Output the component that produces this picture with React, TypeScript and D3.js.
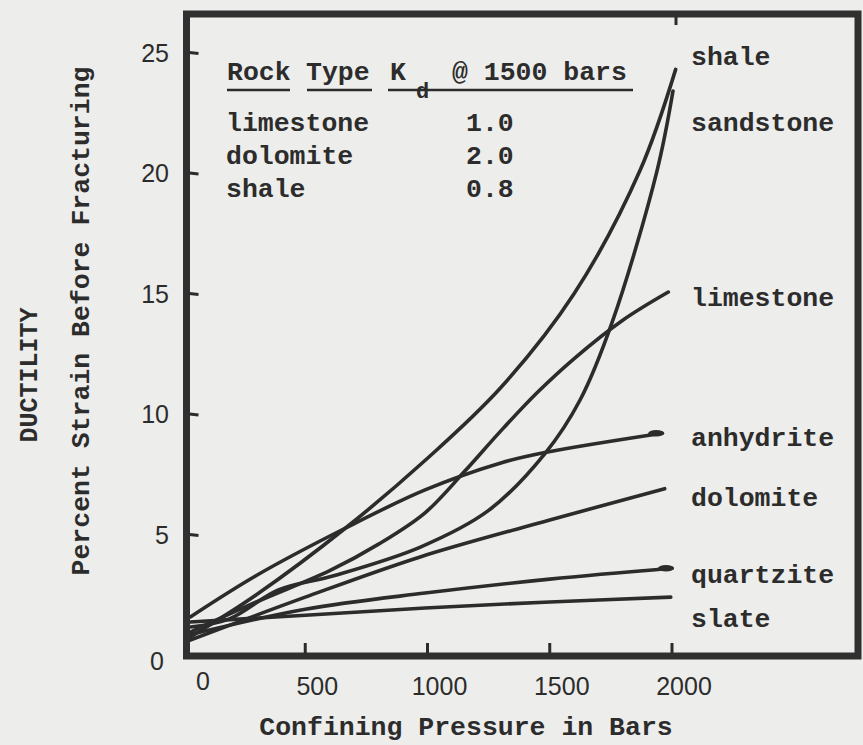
import React from "react";
import * as d3 from "d3";

// ---- data (confining pressure in bars, percent strain) ----
const shale: [number, number][] = [[30, 0.75], [300, 2.5], [665, 5.27], [992, 8.09], [1300, 11.1], [1600, 15.0], [1869, 20.1], [2015, 24.3]];
const sandstone: [number, number][] = [[30, 1.16], [190, 1.5], [390, 2.7], [620, 3.3], [971, 4.48], [1250, 6.0], [1482, 8.38], [1624, 10.58], [1755, 13.8], [1939, 20.1], [2004, 23.4]];
const limestone: [number, number][] = [[30, 0.95], [300, 2.2], [600, 3.5], [800, 4.6], [990, 5.9], [1150, 7.6], [1300, 9.3], [1450, 10.9], [1600, 12.3], [1800, 13.9], [1985, 15.06]];
const anhydrite: [number, number][] = [[30, 1.58], [300, 3.3], [665, 5.27], [990, 6.85], [1300, 7.97], [1480, 8.4], [1960, 9.2]];
const dolomite: [number, number][] = [[30, 0.62], [500, 2.4], [970, 4.07], [1500, 5.6], [1970, 6.9]];
const quartzite: [number, number][] = [[30, 0.85], [500, 1.9], [990, 2.57], [1500, 3.15], [2000, 3.6]];
const slate: [number, number][] = [[30, 1.37], [500, 1.65], [990, 1.95], [1500, 2.2], [1995, 2.4]];

const seriesNames = ["shale", "sandstone", "limestone", "anhydrite", "dolomite", "quartzite", "slate"];
const seriesData = [shale, sandstone, limestone, anhydrite, dolomite, quartzite, slate];
const labelValues = [24.8, 22.07, 14.8, 9.0, 6.5, 3.3, 1.49];

const xTicks = [0, 500, 1000, 1500, 2000];
const yTicks = [0, 5, 10, 15, 20, 25];

const tableRocks = ["limestone", "dolomite", "shale"];
const tableKd = ["1.0", "2.0", "0.8"];

const INK = "#2c2c2c";
const MONO = "'Liberation Mono', 'DejaVu Sans Mono', monospace";
const SANS = "'Liberation Sans', Arial, sans-serif";

export default function App() {
  const x = d3.scaleLinear().domain([0, 2000]).range([183, 672]);
  const y = d3.scaleLinear().domain([0, 25]).range([655, 52.5]);
  const line = d3
    .line<[number, number]>()
    .x((d) => x(d[0]))
    .y((d) => y(d[1]))
    .curve(d3.curveCatmullRom.alpha(0.5));

  const frameL = 186.5, frameR = 858, frameT = 14, frameB = 656;

  return (
    <svg width={863} height={745} style={{ position: "absolute", left: 0, top: 0 }}>
      <rect x={0} y={0} width={863} height={745} fill="#ededeb" />

      {/* curves */}
      {seriesData.map((s, i) => (
        <path key={i} d={line(s) || ""} fill="none" stroke={INK} strokeWidth={3.6} strokeLinecap="round" />
      ))}
      {/* end blobs */}
      {[anhydrite, quartzite].map((s, i) => {
        const last = s[s.length - 1];
        return <ellipse key={i} cx={x(last[0]) - 6} cy={y(last[1])} rx={8} ry={3.2} fill={INK} />;
      })}

      {/* frame */}
      <rect x={frameL} y={frameT} width={frameR - frameL} height={frameB - frameT} fill="none" stroke="#303030" strokeWidth={7} />

      {/* y ticks */}
      {yTicks.filter((t) => t > 0).map((t) => (
        <line key={t} x1={frameL + 3} x2={frameL + 12} y1={y(t)} y2={y(t) + 1} stroke={INK} strokeWidth={3} />
      ))}
      {yTicks.map((t) => (
        <text key={t} x={t === 0 ? 164 : 169} y={y(t) + (t === 0 ? 15 : 9)} textAnchor="end" fontFamily={SANS} fontSize={25} fill={INK}>
          {t}
        </text>
      ))}

      {/* x ticks */}
      {xTicks.filter((t) => t > 0).map((t) => (
        <line key={t} x1={x(t)} x2={x(t)} y1={frameB - 3} y2={frameB - 13} stroke={INK} strokeWidth={3} />
      ))}
      <line x1={x(2000) + 4} x2={x(2000) + 4} y1={frameT + 3} y2={frameT + 11} stroke={INK} strokeWidth={3} />
      {xTicks.map((t) => (
        <text key={t} x={x(t) + (t === 0 ? 20 : 12)} y={t === 0 ? 690 : 695} textAnchor="middle" fontFamily={SANS} fontSize={25} fill={INK}>
          {t}
        </text>
      ))}

      {/* axis titles */}
      <text x={466} y={735} textAnchor="middle" fontFamily={MONO} fontWeight="bold" fontSize={26.5} fill={INK}>
        Confining Pressure in Bars
      </text>
      <text transform="translate(37,375) rotate(-90)" textAnchor="middle" fontFamily={MONO} fontWeight="bold" fontSize={25} fill={INK}>
        DUCTILITY
      </text>
      <text transform="translate(89,321) rotate(-90)" textAnchor="middle" fontFamily={MONO} fontWeight="bold" fontSize={26.5} fill={INK}>
        Percent Strain Before Fracturing
      </text>

      {/* series labels */}
      {seriesNames.map((n, i) => (
        <text key={n} x={691} y={y(labelValues[i]) + 8} fontFamily={MONO} fontWeight="bold" fontSize={26.5} fill={INK}>
          {n}
        </text>
      ))}

      {/* inset table */}
      <g fontFamily={MONO} fontWeight="bold" fontSize={26.5} fill={INK}>
        <text x={227} y={80}>Rock</text>
        <text x={306} y={80}>Type</text>
        <text x={390} y={80}>K</text>
        <text x={416} y={98} fontSize={22}>d</text>
        <text x={452} y={80}>@ 1500 bars</text>
        {tableRocks.map((r, i) => (
          <text key={r} x={226} y={131 + i * 33}>{r}</text>
        ))}
        {tableKd.map((k, i) => (
          <text key={i} x={466} y={131 + i * 33}>{k}</text>
        ))}
      </g>
      <g stroke={INK} strokeWidth={2.5}>
        <line x1={227} x2={290} y1={90} y2={90} />
        <line x1={307} x2={372} y1={90} y2={90} />
        <line x1={388} x2={633} y1={90} y2={90} />
      </g>
    </svg>
  );
}
